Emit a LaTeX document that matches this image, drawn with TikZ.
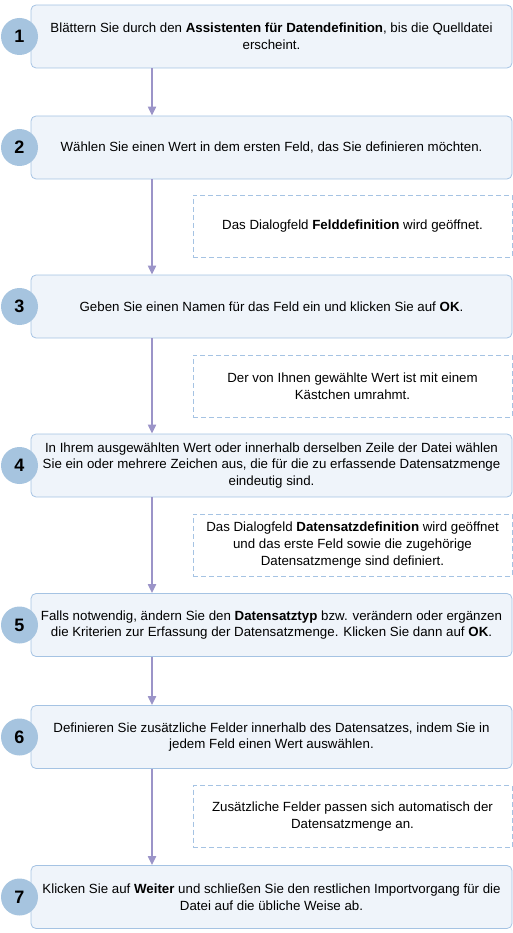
\documentclass[tikz,border=0pt]{standalone}
\usepackage{fontspec}
\setmainfont{Liberation Sans}
\usetikzlibrary{arrows.meta}
\definecolor{boxline}{RGB}{165,195,227}
\definecolor{boxfill}{RGB}{239,244,250}
\definecolor{ballfill}{RGB}{166,196,223}
\definecolor{flowline}{RGB}{155,148,200}

\begin{document}
\begin{tikzpicture}[x=1pt, y=-1pt, >={Triangle[length=9pt, width=8pt]},
		font=\fontsize{13.3}{16.6}\selectfont,
		stepbox/.style={draw=boxline, fill=boxfill, rounded corners=5pt, line width=0.8pt, minimum width=481pt, minimum height=63pt, align=center, inner sep=0pt},
		notebox/.style={draw=boxline, line width=0.8pt, dash pattern=on 5pt off 3pt, minimum width=319pt, minimum height=62pt, align=center, inner sep=0pt},
		numball/.style={circle, fill=ballfill, minimum size=37pt, inner sep=0pt, font=\fontsize{18}{18}\selectfont\bfseries},
		flow/.style={->, draw=flowline, line width=2pt}]
		\useasboundingbox (0,0) rectangle (513,933);
		\coordinate (ax) at (152,0); % x of the flow arrows
		% steps
		\node[stepbox] (s1) at (271.5,36.5) {Blättern Sie durch den \textbf{Assistenten für Datendefinition}, bis die Quelldatei\\erscheint.};
		\node[stepbox] (s2) at (271.5,147.5) {Wählen Sie einen Wert in dem ersten Feld, das Sie definieren möchten.};
		\node[stepbox] (s3) at (271.5,306.5) {Geben Sie einen Namen für das Feld ein und klicken Sie auf \textbf{OK}.};
		\node[stepbox] (s4) at (271.5,465.5) {In Ihrem ausgewählten Wert oder innerhalb derselben Zeile der Datei wählen\\Sie ein oder mehrere Zeichen aus, die für die zu erfassende Datensatzmenge\\eindeutig sind.};
		\node[stepbox] (s5) at (271.5,625) {Falls notwendig, ändern Sie den \textbf{Datensatztyp} bzw. verändern oder ergänzen\\die Kriterien zur Erfassung der Datensatzmenge. Klicken Sie dann auf \textbf{OK}.};
		\node[stepbox] (s6) at (271.5,737) {Definieren Sie zusätzliche Felder innerhalb des Datensatzes, indem Sie in\\jedem Feld einen Wert auswählen.};
		\node[stepbox] (s7) at (271.5,897) {Klicken Sie auf \textbf{Weiter} und schließen Sie den restlichen Importvorgang für die\\Datei auf die übliche Weise ab.};
		% notes between the steps
		\node[notebox] (d1) at (352.5,226) {Das Dialogfeld \textbf{Felddefinition} wird geöffnet.};
		\node[notebox] (d2) at (352.5,386) {Der von Ihnen gewählte Wert ist mit einem\\Kästchen umrahmt.};
		\node[notebox] (d3) at (352.5,545) {Das Dialogfeld \textbf{Datensatzdefinition} wird geöffnet\\und das erste Feld sowie die zugehörige\\Datensatzmenge sind definiert.};
		\node[notebox] (d4) at (352.5,816.5) {Zusätzliche Felder passen sich automatisch der\\Datensatzmenge an.};
		% numbers
		\node[numball] (n1) at (19.5,36.5) {1};
		\node[numball] (n2) at (19.5,147.5) {2};
		\node[numball] (n3) at (19.5,306.5) {3};
		\node[numball] (n4) at (19.5,465.5) {4};
		\node[numball] (n5) at (19.5,625) {5};
		\node[numball] (n6) at (19.5,737) {6};
		\node[numball] (n7) at (19.5,897) {7};
		% flow
		\draw[flow] (s1.south -| ax) -- (s2.north -| ax);
		\draw[flow] (s2.south -| ax) -- (s3.north -| ax);
		\draw[flow] (s3.south -| ax) -- (s4.north -| ax);
		\draw[flow] (s4.south -| ax) -- (s5.north -| ax);
		\draw[flow] (s5.south -| ax) -- (s6.north -| ax);
		\draw[flow] (s6.south -| ax) -- (s7.north -| ax);
	\end{tikzpicture}
\end{document}
